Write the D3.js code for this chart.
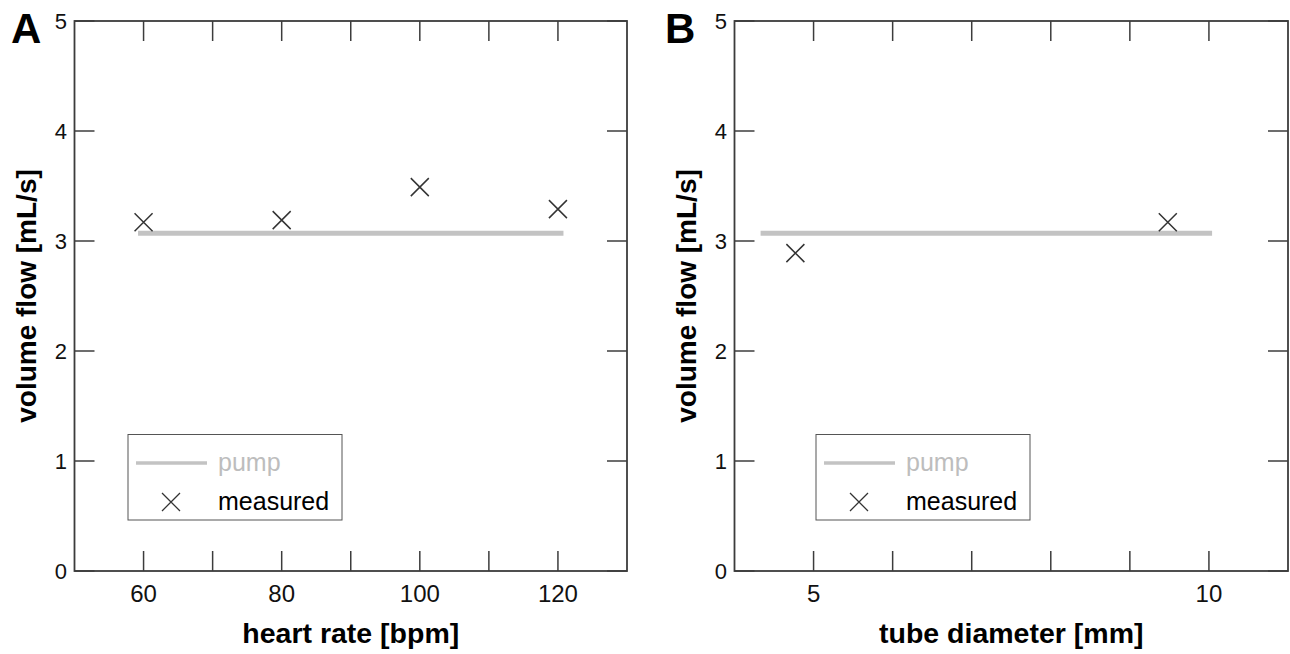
<!DOCTYPE html>
<html><head><meta charset="utf-8">
<script src="https://cdn.jsdelivr.net/npm/d3@7"></script>
<style>body{margin:0;background:#fff}svg{display:block;font-family:"Liberation Sans",Arial,sans-serif}</style>
</head><body><svg id="c" width="1290" height="654"></svg>
<script>
// Panel A data
const heartRate = [60, 80, 100, 120];
const flowA = [3.17, 3.19, 3.49, 3.29];
const pumpA = {x: [59.2, 120.8], y: 3.07};
const xTicksA = [60, 70, 80, 90, 100, 110, 120];
const xLabelsA = [60, 80, 100, 120];
// Panel B data
const tubeDiameter = [4.77, 9.48];
const flowB = [2.89, 3.17];
const pumpB = {x: [4.33, 10.04], y: 3.07};
const xTicksB = [5, 6, 7, 8, 9, 10];
const xLabelsB = [5, 10];
const yTicks = [0, 1, 2, 3, 4, 5];
const legendLabels = ["pump", "measured"];

const svg = d3.select("#c");
const plotTop = 21, plotBottom = 571;
const axisColor = "#3c3c3c";

function panel(cfg) {
  const x = d3.scaleLinear().domain(cfg.xDomain).range([cfg.left, cfg.right]);
  const y = d3.scaleLinear().domain([0, 5]).range([plotBottom, plotTop]);
  const g = svg.append("g");
  const tl = 20;
  g.selectAll(".xb").data(cfg.xTicks).join("line").attr("class","xb")
    .attr("x1", d => x(d)).attr("x2", d => x(d)).attr("y1", plotBottom).attr("y2", plotBottom - tl)
    .attr("stroke", axisColor).attr("stroke-width", 1.5);
  g.selectAll(".xt").data(cfg.xTicks).join("line").attr("class","xt")
    .attr("x1", d => x(d)).attr("x2", d => x(d)).attr("y1", plotTop).attr("y2", plotTop + tl)
    .attr("stroke", axisColor).attr("stroke-width", 1.5);
  g.selectAll(".yl").data(yTicks).join("line").attr("class","yl")
    .attr("x1", cfg.left).attr("x2", cfg.left + tl).attr("y1", d => y(d)).attr("y2", d => y(d))
    .attr("stroke", axisColor).attr("stroke-width", 1.5);
  g.selectAll(".yr").data(yTicks).join("line").attr("class","yr")
    .attr("x1", cfg.right).attr("x2", cfg.right - tl).attr("y1", d => y(d)).attr("y2", d => y(d))
    .attr("stroke", axisColor).attr("stroke-width", 1.5);
  g.append("rect").attr("x", cfg.left).attr("y", plotTop).attr("width", cfg.right - cfg.left).attr("height", plotBottom - plotTop)
    .attr("fill", "none").attr("stroke", axisColor).attr("stroke-width", 1.8);
  g.selectAll(".xlab").data(cfg.xLabels).join("text").attr("class","xlab")
    .attr("x", d => x(d)).attr("y", plotBottom + 31).attr("text-anchor", "middle")
    .attr("font-size", 24).attr("fill", "#111").text(d => d);
  g.selectAll(".ylab").data(yTicks).join("text").attr("class","ylab")
    .attr("x", cfg.left - 7.5).attr("y", d => y(d) + 8).attr("text-anchor", "end")
    .attr("font-size", 22).attr("fill", "#111").text(d => d);
  g.append("text").attr("x", (cfg.left + cfg.right) / 2).attr("y", 643).attr("text-anchor", "middle")
    .attr("font-size", 28.5).attr("font-weight", "bold").attr("fill", "#000").text(cfg.xTitle);
  g.append("text").attr("transform", `translate(${cfg.left - 39},${(plotTop + plotBottom) / 2}) rotate(-90)`)
    .attr("text-anchor", "middle").attr("font-size", 28).attr("font-weight", "bold").attr("fill", "#000").text("volume flow [mL/s]");
  g.append("text").attr("x", cfg.letterX).attr("y", 43).attr("font-size", 42).attr("font-weight", "bold")
    .attr("fill", "#000").text(cfg.letter);
  g.append("line").attr("x1", x(cfg.pump.x[0])).attr("x2", x(cfg.pump.x[1]))
    .attr("y1", y(cfg.pump.y)).attr("y2", y(cfg.pump.y))
    .attr("stroke", "#c3c3c3").attr("stroke-width", 5);
  const s = 9;
  const pts = cfg.xs.map((d, i) => [x(d), y(cfg.ys[i])]);
  g.selectAll(".m").data(pts).join("path").attr("class","m")
    .attr("d", d => `M${d[0]-s},${d[1]-s}L${d[0]+s},${d[1]+s}M${d[0]-s},${d[1]+s}L${d[0]+s},${d[1]-s}`)
    .attr("stroke", "#333").attr("stroke-width", 1.5).attr("fill", "none");
  const L = cfg.legend;
  g.append("rect").attr("x", L.x).attr("y", 434.5).attr("width", 214).attr("height", 85.5)
    .attr("fill", "#fff").attr("stroke", "#555").attr("stroke-width", 1);
  g.append("line").attr("x1", L.x + 8).attr("x2", L.x + 79).attr("y1", 463).attr("y2", 463)
    .attr("stroke", "#c3c3c3").attr("stroke-width", 3.5);
  g.append("text").attr("x", L.x + 90).attr("y", 471).attr("font-size", 25).attr("fill", "#bdbdbd").text(legendLabels[0]);
  const mx = L.x + 43, my = 502;
  g.append("path").attr("d", `M${mx-s},${my-s}L${mx+s},${my+s}M${mx-s},${my+s}L${mx+s},${my-s}`)
    .attr("stroke", "#333").attr("stroke-width", 1.3).attr("fill", "none");
  g.append("text").attr("x", L.x + 90).attr("y", 510).attr("font-size", 25).attr("fill", "#000").text(legendLabels[1]);
}

panel({left: 74.5, right: 627, xDomain: [50, 130], xTicks: xTicksA, xLabels: xLabelsA,
  xTitle: "heart rate [bpm]", letter: "A", letterX: 11, pump: pumpA, xs: heartRate, ys: flowA,
  legend: {x: 128}});
panel({left: 734.5, right: 1288, xDomain: [4, 11], xTicks: xTicksB, xLabels: xLabelsB,
  xTitle: "tube diameter [mm]", letter: "B", letterX: 665, pump: pumpB, xs: tubeDiameter, ys: flowB,
  legend: {x: 816}});
</script></body></html>
